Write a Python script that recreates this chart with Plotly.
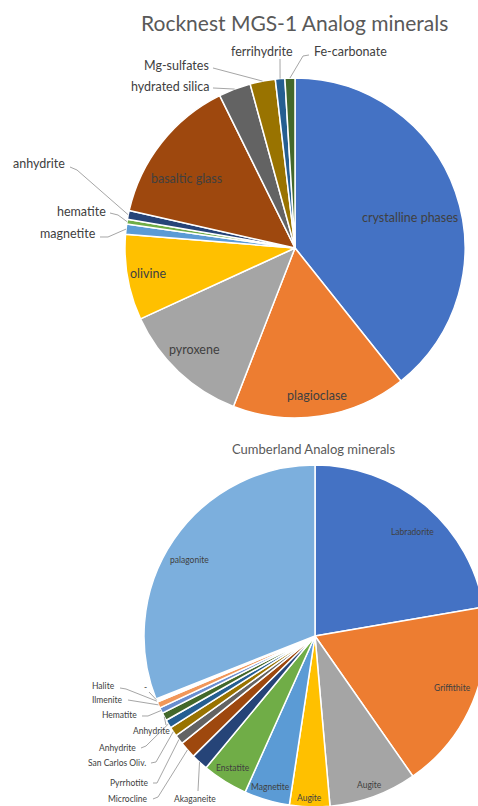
import math
import plotly.graph_objects as go

W, H = 490, 812

# ---------------- data ----------------
rock_title = "Rocknest MGS-1 Analog minerals"
rock_labels = ["crystalline phases", "plagioclase", "pyroxene", "olivine", "magnetite",
               "hematite", "anhydrite", "basaltic glass", "hydrated silica",
               "Mg-sulfates", "ferrihydrite", "Fe-carbonate"]
rock_values = [39.3, 16.6, 12.25, 8.15, 0.95, 0.45, 0.85, 14.15, 3.05, 2.4, 0.9, 0.95]
rock_colors = ["#4472C4", "#ED7D31", "#A5A5A5", "#FFC000", "#5B9BD5", "#70AD47",
               "#264478", "#9E480E", "#636363", "#997300", "#255E91", "#43682B"]

cumb_title = "Cumberland Analog minerals"
cumb_labels = ["Labradorite", "Griffithite", "Augite", "Augite", "Magnetite", "Enstatite",
               "Akaganeite", "Microcline", "Pyrrhotite", "San Carlos Oliv.", "Anhydrite",
               "Anhydrite", "Hematite", "Ilmenite", "Halite", "-", "palagonite"]
cumb_values = [22.3, 18.0, 8.3, 3.8, 4.3, 4.3, 1.6, 1.6, 0.9, 0.9, 0.8, 0.75,
               0.55, 0.6, 0.15, 0.15, 31.0]
cumb_colors = ["#4472C4", "#ED7D31", "#A5A5A5", "#FFC000", "#5B9BD5", "#70AD47",
               "#264478", "#9E480E", "#636363", "#997300", "#255E91", "#43682B",
               "#698ED0", "#F1975A", "#B7B7B7", "#FFCD33", "#7CAFDD"]

# ---------------- layout helpers ----------------
FONT = "Lato, 'Open Sans', sans-serif"
TXT = "#404040"
LEADER = "#A6A6A6"


def px(x, y):
    return x / W, 1 - y / H


def mids(values):
    tot = float(sum(values))
    out, c = [], 0.0
    for v in values:
        out.append((c + v / 2) / tot * 360.0)
        c += v
    return out


def polar(cx, cy, r, deg):
    a = math.radians(deg)
    return cx + r * math.sin(a), cy - r * math.cos(a)


fig = go.Figure()
annotations, shapes = [], []


def add_pie(labels, values, colors, cx, cy, r, title, tpos, tsize,
            inside, outside, fsize):
    fig.add_trace(go.Pie(
        labels=[f"{i}:{n}" for i, n in enumerate(labels)],
        values=values, sort=False, direction="clockwise", rotation=0,
        marker=dict(colors=colors, line=dict(color="white", width=1.5)),
        textinfo="none", hoverinfo="skip", showlegend=False,
        domain=dict(x=[(cx - r) / W, (cx + r) / W],
                    y=[1 - (cy + r) / H, 1 - (cy - r) / H]),
    ))
    m = mids(values)
    tx, ty = px(*tpos)
    annotations.append(dict(x=tx, y=ty, xref="paper", yref="paper", text=title,
                            showarrow=False, xanchor="center", yanchor="middle",
                            font=dict(family=FONT, size=tsize, color="#595959")))
    for i, (frac, dang) in inside.items():
        x, y = polar(cx, cy, r * frac, m[i] + dang)
        X, Y = px(x, y)
        annotations.append(dict(x=X, y=Y, xref="paper", yref="paper", text=labels[i],
                                showarrow=False, xanchor="center", yanchor="middle",
                                font=dict(family=FONT, size=fsize, color=TXT)))
    for i, (lx, ly, anchor, pts) in outside.items():
        X, Y = px(lx, ly)
        annotations.append(dict(x=X, y=Y, xref="paper", yref="paper", text=labels[i],
                                showarrow=False, xanchor=anchor, yanchor="middle",
                                font=dict(family=FONT, size=fsize, color=TXT)))
        tip = polar(cx, cy, r, m[i])
        path_pts = list(pts) + [tip]
        p = "M " + " L ".join(f"{px(a, b)[0]:.5f},{px(a, b)[1]:.5f}" for a, b in path_pts)
        shapes.append(dict(type="path", path=p, xref="paper", yref="paper",
                           line=dict(color=LEADER, width=1), layer="above"))


add_pie(rock_labels, rock_values, rock_colors, 295, 248, 170, rock_title, (294, 22), 21,
        inside={0: (0.70, 4.5), 1: (0.88, 0), 2: (0.84, 1.5), 3: (0.88, 0), 7: (0.76, -5.5)},
        outside={
            11: (312, 51, "left", [(309, 55), (303, 56)]),
            10: (262, 51, "center", [(280, 59)]),
            9: (211, 66, "right", [(213, 68)]),
            8: (211, 86, "right", [(213, 88)]),
            6: (67, 164, "right", [(70, 167), (77, 170)]),
            5: (108, 211, "right", [(110, 213), (118, 215)]),
            4: (98, 233, "right", [(100, 237), (108, 237)]),
        }, fsize=12.5)

add_pie(cumb_labels, cumb_values, cumb_colors, 315, 636, 171, cumb_title, (313, 449), 13,
        inside={0: (0.835, 3), 1: (0.86, -2), 2: (0.93, 0), 3: (0.95, 0), 4: (0.92, 0),
                5: (0.91, 0), 16: (0.855, -3)},
        outside={
            6: (195, 799, "center", [(198, 791)]),
            7: (150, 799, "right", [(153, 799), (158, 797)]),
            8: (150, 783, "right", [(153, 783), (157, 783)]),
            9: (148, 763, "right", [(151, 763), (156, 762)]),
            10: (138, 748, "right", [(141, 748), (146, 746)]),
            11: (172, 731, "right", [(166, 725)]),
            12: (139, 715, "right", [(142, 716), (148, 716)]),
            13: (125, 700, "right", [(128, 700)]),
            14: (117, 686, "right", [(120, 688), (126, 689)]),
            15: (145, 687, "center", [(149, 692)]),
        }, fsize=8.5)

fig.update_layout(width=W, height=H, margin=dict(l=0, r=0, t=0, b=0),
                  paper_bgcolor="white", plot_bgcolor="white",
                  annotations=annotations, shapes=shapes)

fig.write_html("out.html", config={"displayModeBar": False},
               post_script="document.documentElement.style.overflow='hidden';"
                           "document.body.style.overflow='hidden';"
                           "document.body.style.margin='0';")
